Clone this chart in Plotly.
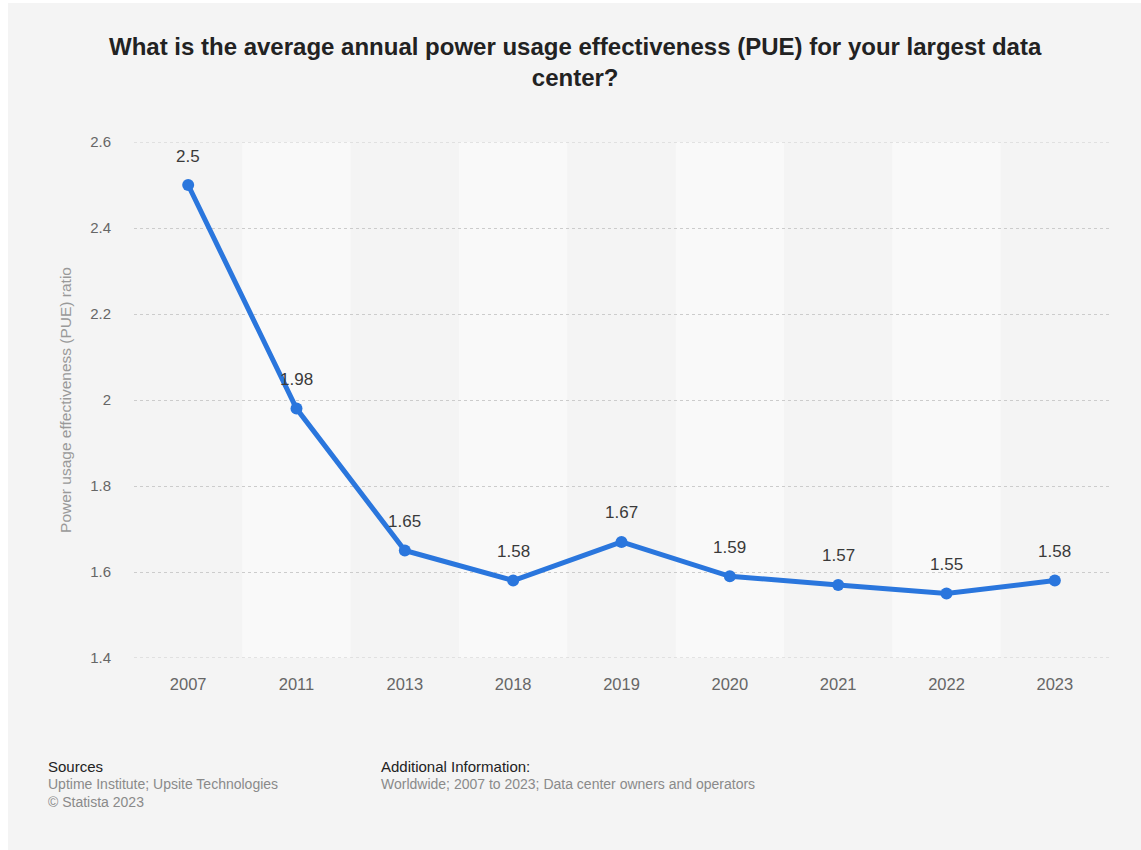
import plotly.graph_objects as go

# PUE survey results by year
years = ["2007", "2011", "2013", "2018", "2019", "2020", "2021", "2022", "2023"]
pue = [2.5, 1.98, 1.65, 1.58, 1.67, 1.59, 1.57, 1.55, 1.58]
y_ticks = [1.4, 1.6, 1.8, 2.0, 2.2, 2.4, 2.6]
y_tick_labels = ["1.4", "1.6", "1.8", "2", "2.2", "2.4", "2.6"]

W, H = 1141, 850
L, R, T, B = 134, 32, 142, 192
PW, PH = W - L - R, H - T - B

def px_x(px):
    return (px - L) / PW

def px_y(py):
    return (H - B - py) / PH

FONT = "Liberation Sans, Arial, Helvetica, sans-serif"
BG = "#f4f4f4"
BAND = "#f9f9f9"
LINE = "#2a76dd"
GRID = "#cccccc"

xpos = list(range(len(years)))

fig = go.Figure()
fig.add_trace(go.Scatter(
    x=xpos, y=pue, mode="lines+markers",
    line=dict(color=LINE, width=5),
    marker=dict(color=LINE, size=12),
    customdata=years, hovertemplate="%{customdata}: %{y}<extra></extra>",
    showlegend=False,
))

shapes = [
    # page background inside the thin white frame
    dict(type="rect", xref="paper", yref="paper", layer="below",
         x0=px_x(8), x1=px_x(W), y0=px_y(H), y1=px_y(3),
         fillcolor=BG, line=dict(width=0)),
]
# alternating category bands
for i in xpos:
    if i % 2 == 1:
        shapes.append(dict(type="rect", xref="x", yref="paper", layer="below",
                           x0=i - 0.5, x1=i + 0.5, y0=0, y1=1,
                           fillcolor=BAND, line=dict(width=0)))
# dotted gridlines on the top and bottom edges of the value range
for yv in (y_ticks[0], y_ticks[-1]):
    shapes.append(dict(type="line", xref="paper", yref="y", layer="below",
                       x0=0, x1=1, y0=yv, y1=yv,
                       line=dict(color=GRID, width=1, dash="dot")))

annotations = []
for i, v in zip(xpos, pue):
    annotations.append(dict(x=i, y=v, xref="x", yref="y", text=f"{v:g}",
                            showarrow=False, yshift=29,
                            font=dict(family=FONT, size=17, color="#3a3a3a")))

# footer texts
footer = [
    ("Sources", 46, 766, 15, "#222222"),
    ("Uptime Institute; Upsite Technologies", 46, 784, 14, "#8a8a8a"),
    ("© Statista 2023", 46, 802, 14, "#8a8a8a"),
    ("Additional Information:", 379, 766, 15, "#222222"),
    ("Worldwide; 2007 to 2023; Data center owners and operators", 379, 784, 14, "#8a8a8a"),
]
for txt, x, y, sz, col in footer:
    annotations.append(dict(xref="paper", yref="paper", x=px_x(x), y=px_y(y),
                            xanchor="left", yanchor="middle", text=txt, showarrow=False,
                            font=dict(family=FONT, size=sz, color=col)))

annotations.append(dict(
    xref="paper", yref="paper", x=px_x(575), y=px_y(62), xanchor="center", yanchor="middle",
    text="<b>What is the average annual power usage effectiveness (PUE) for your largest data<br>center?</b>",
    showarrow=False, align="center",
    font=dict(family=FONT, size=24, color="#222222"),
))

fig.update_layout(
    width=W, height=H,
    margin=dict(l=L, r=R, t=T, b=B),
    paper_bgcolor="#ffffff",
    plot_bgcolor="rgba(0,0,0,0)",
    shapes=shapes,
    annotations=annotations,
    font=dict(family=FONT),
    xaxis=dict(
        range=[-0.5, len(years) - 0.5], tickvals=xpos, ticktext=years,
        showgrid=False, zeroline=False, showline=False,
        ticks="", tickfont=dict(family=FONT, size=16.5, color="#666666"),
        ticklabelstandoff=14, fixedrange=True,
    ),
    yaxis=dict(
        range=[y_ticks[0], y_ticks[-1]], tickvals=y_ticks, ticktext=y_tick_labels,
        showgrid=True, gridcolor=GRID, griddash="dot", gridwidth=1,
        zeroline=False, showline=False, ticks="",
        tickfont=dict(family=FONT, size=15, color="#666666"),
        ticklabelstandoff=22,
        title=dict(text="Power usage effectiveness (PUE) ratio", standoff=14,
                   font=dict(family=FONT, size=15.5, color="#999999")),
        fixedrange=True,
    ),
)

fig.write_html("out.html")
